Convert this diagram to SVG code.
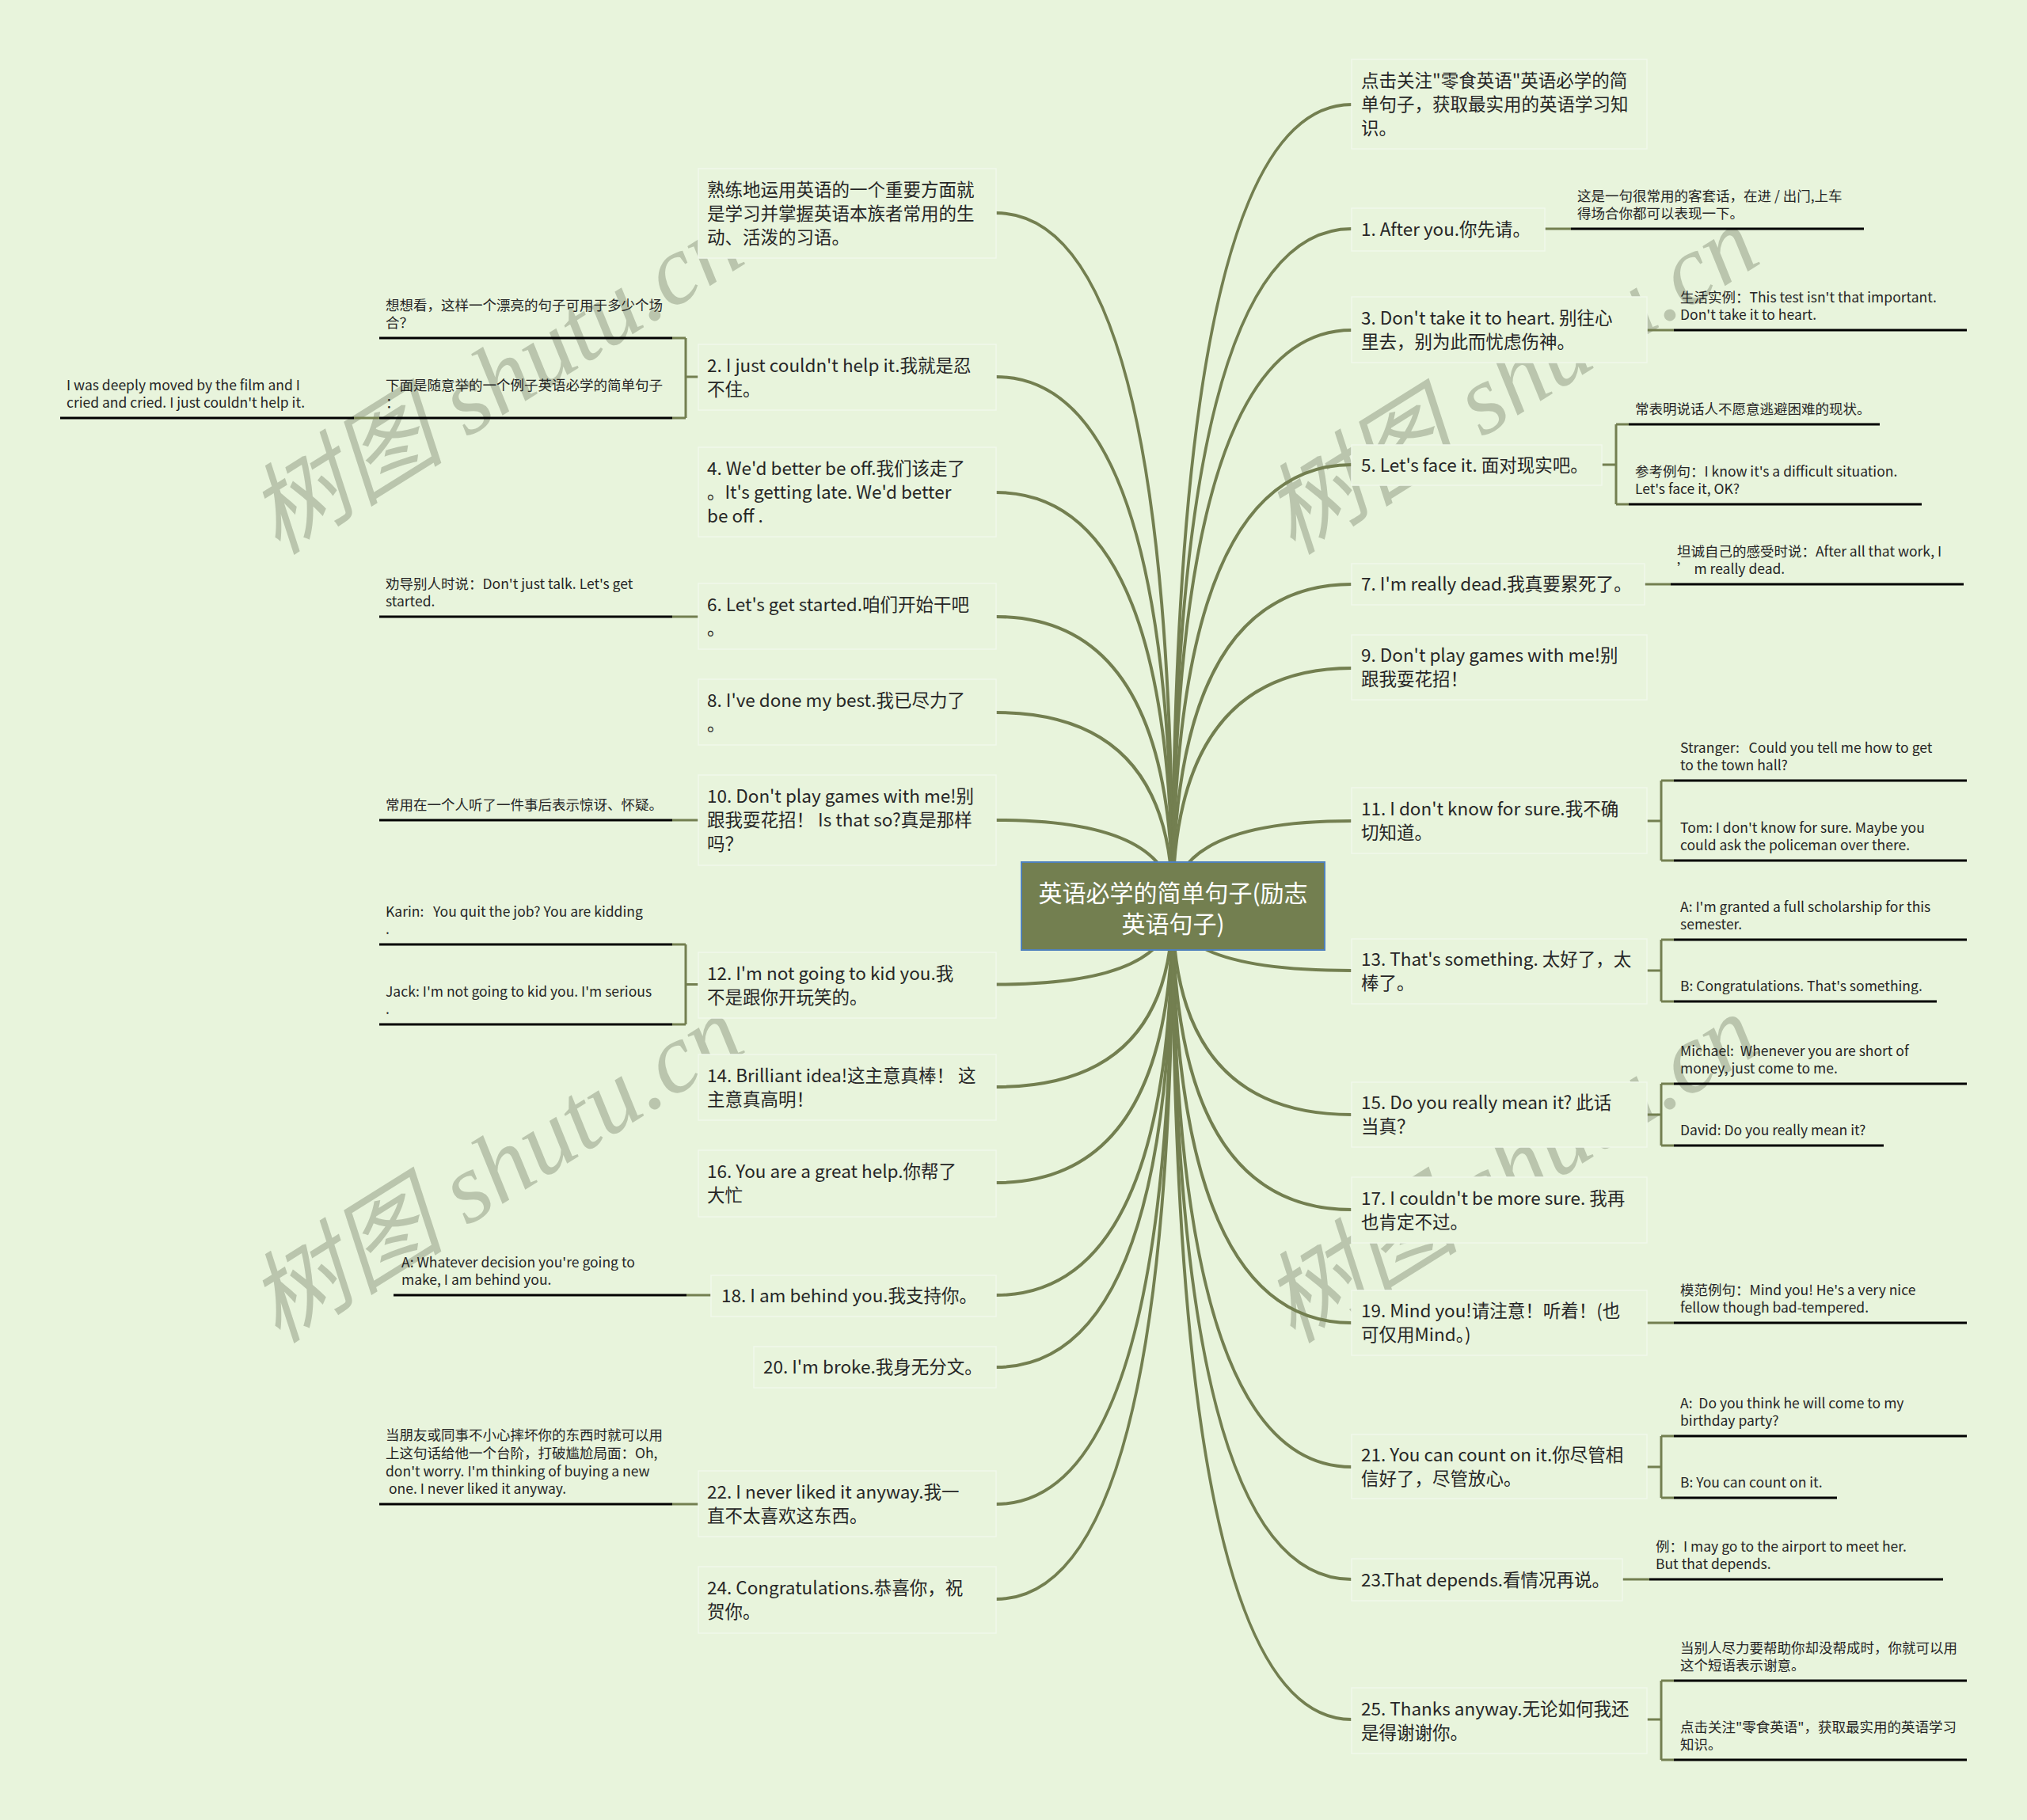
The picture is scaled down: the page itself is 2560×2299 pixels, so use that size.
<svg xmlns="http://www.w3.org/2000/svg" width="2560" height="2299" viewBox="0 0 2560 2299">
<defs>
<style>
text{font-family:"Noto Sans CJK SC","Noto Sans",sans-serif;fill:#262626}
.m{font-size:22.5px}
.s{font-size:17.5px}
.box{fill:#e8f4dc;stroke:#f0f8ea;stroke-width:1.5}
.c{fill:none;stroke:#737f50;stroke-width:4}
.o{fill:none;stroke:#737f50;stroke-width:3}
.u{fill:none;stroke:#000;stroke-width:3}
.wm{font-family:"Liberation Serif","Noto Sans CJK SC",serif;font-style:italic;font-size:125px;fill:#6e7a62;fill-opacity:0.38}
.root text{fill:#fff;font-size:30px}
</style>
</defs>
<rect width="2560" height="2299" fill="#e8f4dc"/>
<g id="watermarks">
<text class="wm" transform="translate(351 702) rotate(-32)">树图 shutu.cn</text>
<text class="wm" transform="translate(1633 702) rotate(-32)">树图 shutu.cn</text>
<text class="wm" transform="translate(351 1698) rotate(-32)">树图 shutu.cn</text>
<text class="wm" transform="translate(1633 1698) rotate(-32)">树图 shutu.cn</text>
</g>
<g id="connectors">
<path class="c" d="M1481 1144 Q1481 269 1258 269"/>
<path class="c" d="M1481 1144 Q1481 476 1258 476"/>
<path class="c" d="M1481 1144 Q1481 622 1258 622"/>
<path class="c" d="M1481 1144 Q1481 779 1258 779"/>
<path class="c" d="M1481 1144 Q1481 900 1258 900"/>
<path class="c" d="M1481 1144 Q1481 1036 1258 1036"/>
<path class="c" d="M1481 1144 Q1481 1243.5 1258 1243.5"/>
<path class="c" d="M1481 1144 Q1481 1373 1258 1373"/>
<path class="c" d="M1481 1144 Q1481 1494 1258 1494"/>
<path class="c" d="M1481 1144 Q1481 1636 1258 1636"/>
<path class="c" d="M1481 1144 Q1481 1727 1258 1727"/>
<path class="c" d="M1481 1144 Q1481 1900 1258 1900"/>
<path class="c" d="M1481 1144 Q1481 2020 1258 2020"/>
<path class="c" d="M1481 1144 Q1481 132 1707 132"/>
<path class="c" d="M1481 1144 Q1481 289 1707 289"/>
<path class="c" d="M1481 1144 Q1481 417 1707 417"/>
<path class="c" d="M1481 1144 Q1481 587 1707 587"/>
<path class="c" d="M1481 1144 Q1481 738 1707 738"/>
<path class="c" d="M1481 1144 Q1481 844 1707 844"/>
<path class="c" d="M1481 1144 Q1481 1037 1707 1037"/>
<path class="c" d="M1481 1144 Q1481 1226 1707 1226"/>
<path class="c" d="M1481 1144 Q1481 1408 1707 1408"/>
<path class="c" d="M1481 1144 Q1481 1528 1707 1528"/>
<path class="c" d="M1481 1144 Q1481 1671 1707 1671"/>
<path class="c" d="M1481 1144 Q1481 1853 1707 1853"/>
<path class="c" d="M1481 1144 Q1481 1995 1707 1995"/>
<path class="c" d="M1481 1144 Q1481 2172 1707 2172"/>
<path class="o" d="M882 476H866M866 427V528M866 427H849M866 528H849M479 528H447"/>
<path class="o" d="M882 779H849M882 1036H849M898 1636H867M882 1900H849"/>
<path class="o" d="M882 1243.5H866M866 1193V1294M866 1193H849M866 1294H849"/>
<path class="o" d="M1951 289H1984M2080 417H2114M2077 738H2110M2080 1671H2114M2049 1995H2083"/>
<path class="o" d="M2023 587H2041M2041 536V637M2041 536H2057M2041 637H2057"/>
<path class="o" d="M2080 1037H2098M2098 986V1087M2098 986H2114M2098 1087H2114"/>
<path class="o" d="M2080 1226H2098M2098 1187V1265M2098 1187H2114M2098 1265H2114"/>
<path class="o" d="M2080 1408H2098M2098 1369V1447M2098 1369H2114M2098 1447H2114"/>
<path class="o" d="M2080 1853H2098M2098 1814V1892M2098 1814H2114M2098 1892H2114"/>
<path class="o" d="M2080 2172H2098M2098 2123V2223M2098 2123H2114M2098 2223H2114"/>
</g>
<g id="root" class="root">
<rect x="1290" y="1089" width="383" height="111" fill="#737f50" stroke="#4f81bd" stroke-width="2"/>
<text x="1481.5" y="1139" text-anchor="middle">英语必学的简单句子(励志</text>
<text x="1481.5" y="1178" text-anchor="middle">英语句子)</text>
</g>
<g id="L0"><rect class="box" x="882" y="213" width="376" height="113"/><text class="m" x="893" y="247.5">熟练地运用英语的一个重要方面就</text><text class="m" x="893" y="277.5">是学习并掌握英语本族者常用的生</text><text class="m" x="893" y="307.5">动、活泼的习语。</text></g>
<g id="L2"><rect class="box" x="882" y="435" width="376" height="83"/><text class="m" x="893" y="469.5">2. I just couldn't help it.我就是忍</text><text class="m" x="893" y="499.5">不住。</text></g>
<g id="L2a"><path class="u" d="M479 427H849"/><text class="s" x="487" y="392">想想看，这样一个漂亮的句子可用于多少个场</text><text class="s" x="487" y="414">合？</text></g>
<g id="L2b"><path class="u" d="M479 528H849"/><text class="s" x="487" y="493">下面是随意举的一个例子英语必学的简单句子</text><text class="s" x="487" y="515">：</text></g>
<g id="L2b1"><path class="u" d="M76 528H447"/><text class="s" x="84" y="493">I was deeply moved by the film and I</text><text class="s" x="84" y="515">cried and cried. I just couldn't help it.</text></g>
<g id="L4"><rect class="box" x="882" y="565" width="376" height="113"/><text class="m" x="893" y="599.5">4. We'd better be off.我们该走了</text><text class="m" x="893" y="629.5">。It's getting late. We'd better</text><text class="m" x="893" y="659.5">be off .</text></g>
<g id="L6"><rect class="box" x="882" y="737" width="376" height="83"/><text class="m" x="893" y="771.5">6. Let's get started.咱们开始干吧</text><text class="m" x="893" y="801.5">。</text></g>
<g id="L6a"><path class="u" d="M479 779H849"/><text class="s" x="487" y="744">劝导别人时说：Don't just talk. Let's get</text><text class="s" x="487" y="766">started.</text></g>
<g id="L8"><rect class="box" x="882" y="858" width="376" height="83"/><text class="m" x="893" y="892.5">8. I've done my best.我已尽力了</text><text class="m" x="893" y="922.5">。</text></g>
<g id="L10"><rect class="box" x="882" y="979" width="376" height="114"/><text class="m" x="893" y="1014">10. Don't play games with me!别</text><text class="m" x="893" y="1044">跟我耍花招！ Is that so?真是那样</text><text class="m" x="893" y="1074">吗？</text></g>
<g id="L10a"><path class="u" d="M479 1036H849"/><text class="s" x="487" y="1023">常用在一个人听了一件事后表示惊讶、怀疑。</text></g>
<g id="L12"><rect class="box" x="882" y="1203" width="376" height="83"/><text class="m" x="893" y="1237.5">12. I'm not going to kid you.我</text><text class="m" x="893" y="1267.5">不是跟你开玩笑的。</text></g>
<g id="L12a"><path class="u" d="M479 1193H849"/><text class="s" x="487" y="1158" xml:space="preserve">Karin:   You quit the job? You are kidding</text><text class="s" x="487" y="1180">.</text></g>
<g id="L12b"><path class="u" d="M479 1294H849"/><text class="s" x="487" y="1259">Jack: I'm not going to kid you. I'm serious</text><text class="s" x="487" y="1281">.</text></g>
<g id="L14"><rect class="box" x="882" y="1332" width="376" height="83"/><text class="m" x="893" y="1366.5">14. Brilliant idea!这主意真棒！ 这</text><text class="m" x="893" y="1396.5">主意真高明！</text></g>
<g id="L16"><rect class="box" x="882" y="1453" width="376" height="84"/><text class="m" x="893" y="1488">16. You are a great help.你帮了</text><text class="m" x="893" y="1518">大忙</text></g>
<g id="L18"><rect class="box" x="898" y="1611" width="360" height="52"/><text class="m" x="911" y="1645">18. I am behind you.我支持你。</text></g>
<g id="L18a"><path class="u" d="M497 1636H867"/><text class="s" x="507" y="1601">A: Whatever decision you're going to</text><text class="s" x="507" y="1623">make, I am behind you.</text></g>
<g id="L20"><rect class="box" x="952" y="1701" width="306" height="52"/><text class="m" x="964" y="1735">20. I'm broke.我身无分文。</text></g>
<g id="L22"><rect class="box" x="882" y="1858" width="376" height="83"/><text class="m" x="893" y="1892.5">22. I never liked it anyway.我一</text><text class="m" x="893" y="1922.5">直不太喜欢这东西。</text></g>
<g id="L22a"><path class="u" d="M479 1900H849"/><text class="s" x="487" y="1819">当朋友或同事不小心摔坏你的东西时就可以用</text><text class="s" x="487" y="1842">上这句话给他一个台阶，打破尴尬局面：Oh,</text><text class="s" x="487" y="1865">don't worry. I'm thinking of buying a new</text><text class="s" x="487" y="1887" xml:space="preserve"> one. I never liked it anyway.</text></g>
<g id="L24"><rect class="box" x="882" y="1979" width="376" height="84"/><text class="m" x="893" y="2014">24. Congratulations.恭喜你，祝</text><text class="m" x="893" y="2044">贺你。</text></g>
<g id="R0"><rect class="box" x="1707" y="75" width="373" height="113"/><text class="m" x="1719" y="109.5">点击关注"零食英语"英语必学的简</text><text class="m" x="1719" y="139.5">单句子，获取最实用的英语学习知</text><text class="m" x="1719" y="169.5">识。</text></g>
<g id="R1"><rect class="box" x="1707" y="263" width="244" height="54"/><text class="m" x="1719" y="298">1. After you.你先请。</text></g>
<g id="R1a"><path class="u" d="M1984 289H2354"/><text class="s" x="1992" y="254">这是一句很常用的客套话，在进 / 出门,上车</text><text class="s" x="1992" y="276">得场合你都可以表现一下。</text></g>
<g id="R3"><rect class="box" x="1707" y="375" width="373" height="83"/><text class="m" x="1719" y="409.5">3. Don't take it to heart. 别往心</text><text class="m" x="1719" y="439.5">里去，别为此而忧虑伤神。</text></g>
<g id="R3a"><path class="u" d="M2114 417H2484"/><text class="s" x="2122" y="382">生活实例：This test isn't that important.</text><text class="s" x="2122" y="404">Don't take it to heart.</text></g>
<g id="R5"><rect class="box" x="1707" y="562" width="316" height="51"/><text class="m" x="1719" y="595.5">5. Let's face it. 面对现实吧。</text></g>
<g id="R5a"><path class="u" d="M2057 536H2374"/><text class="s" x="2065" y="523">常表明说话人不愿意逃避困难的现状。</text></g>
<g id="R5b"><path class="u" d="M2057 637H2427"/><text class="s" x="2065" y="602">参考例句：I know it's a difficult situation.</text><text class="s" x="2065" y="624">Let's face it, OK?</text></g>
<g id="R7"><rect class="box" x="1707" y="712" width="370" height="52"/><text class="m" x="1719" y="746">7. I'm really dead.我真要累死了。</text></g>
<g id="R7a"><path class="u" d="M2110 738H2480"/><text class="s" x="2118" y="703">坦诚自己的感受时说：After all that work, I</text><text class="s" x="2118" y="725">’ m really dead.</text></g>
<g id="R9"><rect class="box" x="1707" y="802" width="373" height="82"/><text class="m" x="1719" y="836">9. Don't play games with me!别</text><text class="m" x="1719" y="866">跟我耍花招！</text></g>
<g id="R11"><rect class="box" x="1707" y="995" width="373" height="83"/><text class="m" x="1719" y="1029.5">11. I don't know for sure.我不确</text><text class="m" x="1719" y="1059.5">切知道。</text></g>
<g id="R11a"><path class="u" d="M2114 986H2484"/><text class="s" x="2122" y="951" xml:space="preserve">Stranger:   Could you tell me how to get</text><text class="s" x="2122" y="973">to the town hall?</text></g>
<g id="R11b"><path class="u" d="M2114 1087H2484"/><text class="s" x="2122" y="1052">Tom: I don't know for sure. Maybe you</text><text class="s" x="2122" y="1074">could ask the policeman over there.</text></g>
<g id="R13"><rect class="box" x="1707" y="1186" width="373" height="82"/><text class="m" x="1719" y="1220">13. That's something. 太好了，太</text><text class="m" x="1719" y="1250">棒了。</text></g>
<g id="R13a"><path class="u" d="M2114 1187H2484"/><text class="s" x="2122" y="1152">A: I'm granted a full scholarship for this</text><text class="s" x="2122" y="1174">semester.</text></g>
<g id="R13b"><path class="u" d="M2114 1265H2446"/><text class="s" x="2122" y="1252">B: Congratulations. That's something.</text></g>
<g id="R15"><rect class="box" x="1707" y="1367" width="373" height="82"/><text class="m" x="1719" y="1401">15. Do you really mean it? 此话</text><text class="m" x="1719" y="1431">当真？</text></g>
<g id="R15a"><path class="u" d="M2114 1369H2484"/><text class="s" x="2122" y="1334" xml:space="preserve">Michael:  Whenever you are short of</text><text class="s" x="2122" y="1356">money, just come to me.</text></g>
<g id="R15b"><path class="u" d="M2114 1447H2379"/><text class="s" x="2122" y="1434">David: Do you really mean it?</text></g>
<g id="R17"><rect class="box" x="1707" y="1487" width="373" height="83"/><text class="m" x="1719" y="1521.5">17. I couldn't be more sure. 我再</text><text class="m" x="1719" y="1551.5">也肯定不过。</text></g>
<g id="R19"><rect class="box" x="1707" y="1630" width="373" height="82"/><text class="m" x="1719" y="1664">19. Mind you!请注意！听着！(也</text><text class="m" x="1719" y="1694">可仅用Mind。)</text></g>
<g id="R19a"><path class="u" d="M2114 1671H2484"/><text class="s" x="2122" y="1636">模范例句：Mind you! He's a very nice</text><text class="s" x="2122" y="1658">fellow though bad-tempered.</text></g>
<g id="R21"><rect class="box" x="1707" y="1812" width="373" height="81"/><text class="m" x="1719" y="1845.5">21. You can count on it.你尽管相</text><text class="m" x="1719" y="1875.5">信好了，尽管放心。</text></g>
<g id="R21a"><path class="u" d="M2114 1814H2484"/><text class="s" x="2122" y="1779" xml:space="preserve">A:  Do you think he will come to my</text><text class="s" x="2122" y="1801">birthday party?</text></g>
<g id="R21b"><path class="u" d="M2114 1892H2320"/><text class="s" x="2122" y="1879">B: You can count on it.</text></g>
<g id="R23"><rect class="box" x="1707" y="1969" width="342" height="53"/><text class="m" x="1719" y="2003.5">23.That depends.看情况再说。</text></g>
<g id="R23a"><path class="u" d="M2083 1995H2454"/><text class="s" x="2091" y="1960">例：I may go to the airport to meet her.</text><text class="s" x="2091" y="1982">But that depends.</text></g>
<g id="R25"><rect class="box" x="1707" y="2132" width="373" height="83"/><text class="m" x="1719" y="2166.5">25. Thanks anyway.无论如何我还</text><text class="m" x="1719" y="2196.5">是得谢谢你。</text></g>
<g id="R25a"><path class="u" d="M2114 2123H2484"/><text class="s" x="2122" y="2088">当别人尽力要帮助你却没帮成时，你就可以用</text><text class="s" x="2122" y="2110">这个短语表示谢意。</text></g>
<g id="R25b"><path class="u" d="M2114 2223H2484"/><text class="s" x="2122" y="2188">点击关注"零食英语"，获取最实用的英语学习</text><text class="s" x="2122" y="2210">知识。</text></g>
</svg>
